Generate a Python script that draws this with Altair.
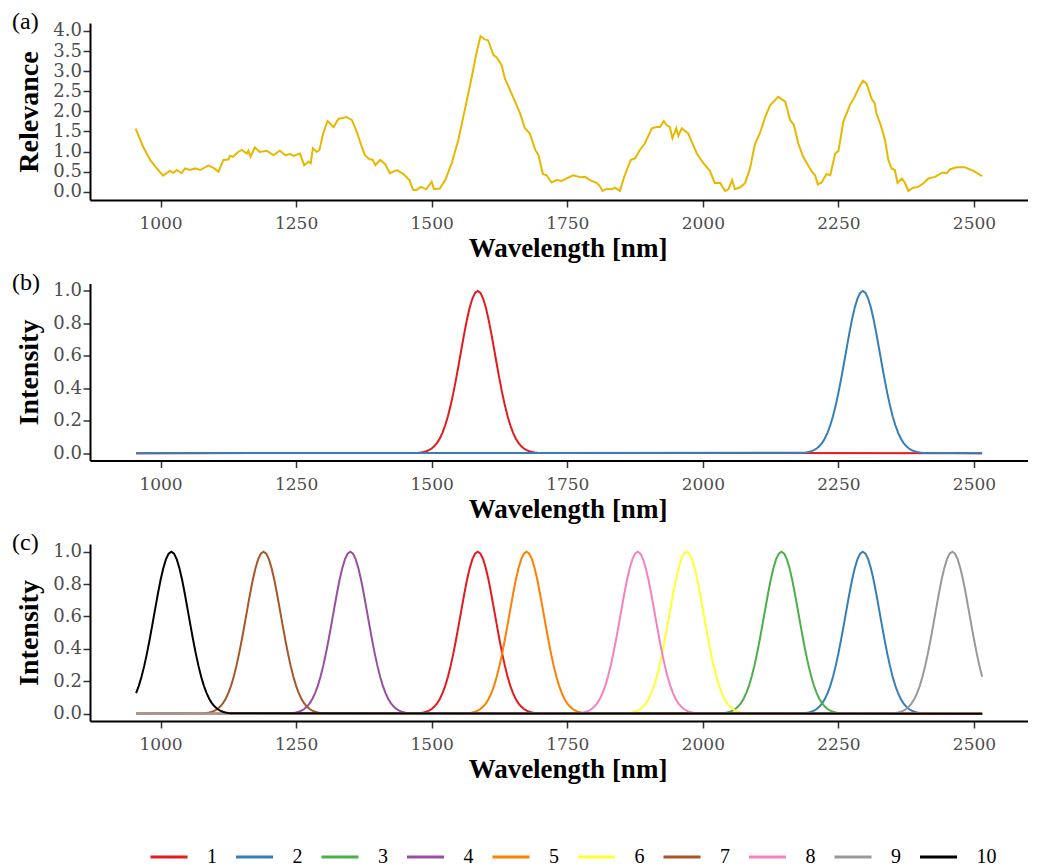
import altair as alt
import pandas as pd

# ---------------- data ----------------
REL_WL = [954, 968, 981, 993, 1005, 1011, 1017, 1024, 1030, 1039, 1045, 1054, 1064, 1073,
          1088, 1097, 1107, 1116, 1125, 1128, 1134, 1143, 1150, 1159, 1162, 1166, 1174,
          1183, 1196, 1208, 1220, 1230, 1239, 1245, 1257, 1265, 1273, 1277, 1281, 1288,
          1293, 1300, 1308, 1319, 1328, 1343, 1353, 1362, 1371, 1377, 1386, 1391, 1396,
          1405, 1414, 1423, 1436, 1448, 1459, 1466, 1472, 1480, 1490, 1500, 1504, 1515,
          1525, 1537, 1549, 1561, 1574, 1583, 1590, 1598, 1604, 1614, 1620, 1629, 1635,
          1650, 1663, 1672, 1681, 1691, 1697, 1705, 1712, 1721, 1730, 1740, 1749, 1761,
          1774, 1783, 1792, 1804, 1810, 1815, 1823, 1832, 1838, 1847, 1856, 1867, 1875,
          1884, 1893, 1906, 1915, 1921, 1928, 1933, 1939, 1944, 1951, 1955, 1961, 1973,
          1989, 2001, 2013, 2022, 2032, 2041, 2047, 2054, 2059, 2069, 2078, 2087, 2096,
          2105, 2115, 2124, 2139, 2152, 2161, 2168, 2176, 2185, 2201, 2207, 2212, 2219,
          2228, 2235, 2244, 2250, 2259, 2271, 2280, 2287, 2295, 2302, 2311, 2317, 2320,
          2328, 2336, 2342, 2348, 2354, 2359, 2367, 2373, 2379, 2388, 2397, 2407, 2416,
          2428, 2442, 2450, 2456, 2468, 2483, 2499, 2515]
REL_VAL = [1.57, 1.12, 0.79, 0.58, 0.40, 0.46, 0.52, 0.47, 0.54, 0.46, 0.58, 0.54, 0.58, 0.54,
           0.65, 0.60, 0.50, 0.79, 0.80, 0.89, 0.87, 0.99, 1.04, 0.95, 1.02, 0.87, 1.10,
           0.99, 1.02, 0.91, 1.02, 0.91, 0.94, 0.89, 0.95, 0.66, 0.75, 0.71, 1.08, 0.99,
           1.04, 1.45, 1.76, 1.61, 1.81, 1.86, 1.78, 1.49, 1.12, 0.91, 0.80, 0.80, 0.66,
           0.79, 0.69, 0.46, 0.54, 0.44, 0.29, 0.04, 0.04, 0.12, 0.06, 0.25, 0.07, 0.08,
           0.29, 0.71, 1.28, 2.03, 2.86, 3.48, 3.87, 3.79, 3.77, 3.40, 3.34, 3.15, 2.82,
           2.36, 1.95, 1.58, 1.45, 1.04, 0.91, 0.44, 0.41, 0.23, 0.29, 0.27, 0.33, 0.41,
           0.36, 0.37, 0.29, 0.22, 0.14, 0.02, 0.07, 0.06, 0.10, 0.02, 0.41, 0.79, 0.83,
           1.04, 1.20, 1.58, 1.61, 1.61, 1.76, 1.66, 1.61, 1.33, 1.58, 1.39, 1.58, 1.45,
           0.95, 0.71, 0.52, 0.22, 0.22, 0.02, 0.06, 0.29, 0.06, 0.11, 0.22, 0.58, 1.18,
           1.45, 1.86, 2.15, 2.36, 2.24, 1.78, 1.66, 1.20, 0.87, 0.50, 0.41, 0.18, 0.23,
           0.44, 0.41, 0.95, 1.01, 1.74, 2.15, 2.36, 2.57, 2.76, 2.69, 2.32, 2.20, 1.95,
           1.66, 1.28, 0.79, 0.58, 0.54, 0.22, 0.33, 0.21, 0.02, 0.10, 0.12, 0.21, 0.33,
           0.37, 0.48, 0.46, 0.56, 0.61, 0.61, 0.52, 0.39]

# normalised band profile (offset from band centre, nm)
PEAK_OFFSETS = [-110, -105, -100, -95, -90, -85, -80, -75, -70, -65, -60, -55, -50, -45,
                -40, -35, -30, -25, -20, -15, -10, -5, 0, 5, 10, 15, 20, 25, 30, 35, 40,
                45, 50, 55, 60, 65, 70, 75, 80, 85, 90, 95, 100, 105, 110]
PEAK_SHAPE = [0.003, 0.005, 0.008, 0.012, 0.019, 0.029, 0.044, 0.064, 0.091, 0.127, 0.172,
              0.228, 0.295, 0.372, 0.458, 0.550, 0.644, 0.737, 0.823, 0.896, 0.952, 0.988,
              1.000, 0.988, 0.952, 0.896, 0.823, 0.737, 0.644, 0.550, 0.458, 0.372, 0.295,
              0.228, 0.172, 0.127, 0.091, 0.064, 0.044, 0.029, 0.019, 0.012, 0.008, 0.005,
              0.003]

SERIES = ["1", "2", "3", "4", "5", "6", "7", "8", "9", "10"]
COLORS = ["#E41A1C", "#377EB8", "#4DAF4A", "#984EA3", "#FF7F00",
          "#FFFF33", "#A65628", "#F781BF", "#999999", "#000000"]
CENTERS_C = [1585, 2295, 2145, 1350, 1675, 1970, 1190, 1880, 2460, 1020]
SERIES_B = ["1", "2"]
CENTERS_B = [1585, 2295]
WL_START, WL_END = 955, 2515

PANEL_TAGS = ["(a)", "(b)", "(c)"]
TICKS_X = [1000, 1250, 1500, 1750, 2000, 2250, 2500]
TICKS_REL = [0.0, 0.5, 1.0, 1.5, 2.0, 2.5, 3.0, 3.5, 4.0]
TICKS_INT = [0.0, 0.2, 0.4, 0.6, 0.8, 1.0]


def peak_rows(names, centers):
    rows = []
    for name, c in zip(names, centers):
        pts = {WL_START: 0.0, WL_END: 0.0}
        for off, v in zip(PEAK_OFFSETS, PEAK_SHAPE):
            w = c + off
            if WL_START <= w <= WL_END:
                pts[w] = v
        for w in sorted(pts):
            rows.append({"series": name, "wl": w, "val": pts[w]})
    return pd.DataFrame(rows)


rel_df = pd.DataFrame({"wl": REL_WL, "val": REL_VAL})
b_df = peak_rows(SERIES_B, CENTERS_B)
c_df = peak_rows(SERIES, CENTERS_C)

# ---------------- styling ----------------
W, H = 938, 177
PXNM = 0.54233
XDOM = [870, 870 + W / PXNM]
FT = "Liberation Serif"

x_scale = alt.Scale(domain=XDOM, nice=False, zero=False)


def x_enc():
    return alt.X("wl:Q", scale=x_scale,
                 axis=alt.Axis(values=TICKS_X, format="d", title="Wavelength [nm]",
                               titleX=477.5, titleY=56.7, titleBaseline="alphabetic",
                               titleAlign="center", labelPadding=8.5))


def y_enc(title, dom, ticks):
    return alt.Y("val:Q", scale=alt.Scale(domain=dom, nice=False, zero=False),
                 axis=alt.Axis(values=ticks, format=".1f", title=title,
                               titleX=-53, titleY=H / 2, titleAngle=270,
                               titleBaseline="alphabetic", titleAlign="center",
                               labelPadding=1.5, labelFontSize=18))


def tag_layer(t):
    return alt.Chart(pd.DataFrame({"tag": [t]})).mark_text(
        font=FT, fontSize=24, color="black", align="left", baseline="alphabetic"
    ).encode(text="tag:N", x=alt.value(-78), y=alt.value(6.3))


legend = alt.Legend(orient="none", legendX=59, legendY=814, direction="horizontal",
                    title=None, symbolType="stroke", symbolSize=1369,
                    symbolStrokeWidth=3, labelFont=FT, labelFontSize=20,
                    labelColor="black", labelOffset=18, columnPadding=12.5,
                    padding=0, columns=10)
color = alt.Color("series:N", scale=alt.Scale(domain=SERIES, range=COLORS),
                  legend=legend)

la = alt.Chart(rel_df).mark_line(color="#E7B800", strokeWidth=2).encode(
    x=x_enc(), y=y_enc("Relevance", [-0.206, 4.199], TICKS_REL))
lb = alt.Chart(b_df).mark_line(strokeWidth=2).encode(
    x=x_enc(), y=y_enc("Intensity", [-0.045, 1.046], TICKS_INT), color=color)
lc = alt.Chart(c_df).mark_line(strokeWidth=2).encode(
    x=x_enc(), y=y_enc("Intensity", [-0.045, 1.047], TICKS_INT), color=color)

pa = alt.layer(la, tag_layer(PANEL_TAGS[0])).properties(width=W, height=H)
pb = alt.layer(lb, tag_layer(PANEL_TAGS[1])).properties(width=W, height=H)
pc = alt.layer(lc, tag_layer(PANEL_TAGS[2])).properties(width=W, height=H)

chart = alt.vconcat(pa, pb, pc, spacing=83.5, bounds="flush").properties(
    padding={"left": 4, "top": 2, "right": 0, "bottom": 0}
).configure(background="white").configure_view(stroke=None).configure_axis(
    grid=False, domainColor="black", domainWidth=2, tickColor="#333333",
    tickWidth=1.5, tickSize=7, labelFont="DejaVu Serif", labelFontSize=17,
    labelColor="#4D4D4D", titleFont=FT, titleFontWeight="bold", titleFontSize=27,
    titleColor="black"
).configure_axisY(titleFontSize=28)

chart.save("out.html", embed_options={"renderer": "svg", "actions": False})
